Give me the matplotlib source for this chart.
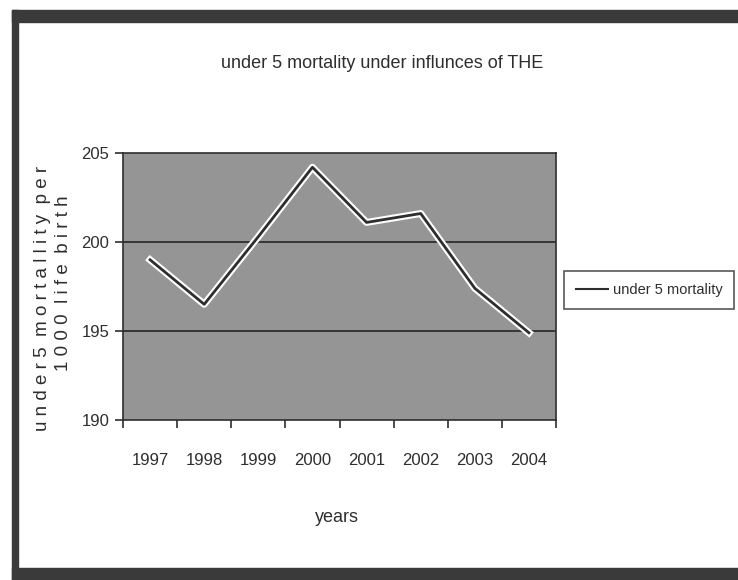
import numpy as np
import matplotlib
matplotlib.use("Agg")
import matplotlib.pyplot as plt
import matplotlib.patheffects as pe
from matplotlib.lines import Line2D
from matplotlib.patches import Rectangle

years = ["1997", "1998", "1999", "2000", "2001", "2002", "2003", "2004"]
mortality = [199.0, 196.5, 200.3, 204.2, 201.1, 201.6, 197.4, 194.9]
y_ticks = [190, 195, 200, 205]

font = ["Liberation Sans", "DejaVu Sans"]
ink = "#2e2e2e"

fig = plt.figure(figsize=(7.38, 5.8), dpi=100)
ax = fig.add_axes([0.1667, 0.2759, 0.5867, 0.4603])
ax.set_facecolor("#959595")

x = np.arange(len(years))
ax.plot(x, mortality, color=ink, lw=2.0, zorder=3,
        path_effects=[pe.Stroke(linewidth=5, foreground="white"), pe.Normal()])

for v in y_ticks[1:3]:
    ax.axhline(v, color=ink, lw=1.3, zorder=2)

ax.set_xlim(-0.5, len(years) - 0.5)
ax.set_ylim(190, 205)
ax.set_xticks(x)
ax.set_xticklabels(years, family=font, fontsize=12, color=ink)
ax.set_xticks(np.arange(len(years) + 1) - 0.5, minor=True)
ax.tick_params(axis="x", which="major", length=0, pad=24)
ax.tick_params(axis="x", which="minor", length=6, width=1.2, color=ink, direction="out")
ax.set_yticks(y_ticks)
ax.set_yticklabels([str(v) for v in y_ticks], family=font, fontsize=12, color=ink)
ax.tick_params(axis="y", length=6, width=1.2, color=ink, direction="out", pad=4)
for s in ax.spines.values():
    s.set_color(ink)
    s.set_linewidth(1.2)

fig.text(382 / 738, 1 - 63 / 580, "under 5 mortality under influnces of THE",
         family=font, fontsize=13, color=ink, ha="center", va="center")
fig.text(337 / 738, 1 - 517 / 580, "years", family=font, fontsize=13,
         color=ink, ha="center", va="center")
fig.text(43 / 738, 1 - 298 / 580, "u n d e r 5  m o r t a l l i t y  p e r",
         family=font, fontsize=13.5, color=ink, rotation=90, ha="center", va="center")
fig.text(64 / 738, 1 - 283 / 580, "1 0 0 0  l i f e  b i r t h",
         family=font, fontsize=13.5, color=ink, rotation=90, ha="center", va="center")

handle = Line2D([], [], color=ink, lw=1.5)
leg = fig.legend([handle], ["under 5 mortality"], loc="center right",
                 bbox_to_anchor=(734 / 738, 1 - 290 / 580),
                 prop={"family": font, "size": 10.5}, frameon=True,
                 fancybox=False, handlelength=2.2, handletextpad=0.3,
                 borderpad=0.8, borderaxespad=0)
leg.get_frame().set_edgecolor(ink)
leg.get_frame().set_linewidth(1.2)
for t in leg.get_texts():
    t.set_color(ink)

# dark scan edges along the top, left and bottom of the page
edge = "#3a3a3a"
fig.patches.append(Rectangle((12 / 738, 1 - 22 / 580), 1, 12 / 580,
                             transform=fig.transFigure, color=edge))
fig.patches.append(Rectangle((12 / 738, 0), 6 / 738, 1 - 10 / 580,
                             transform=fig.transFigure, color=edge))
fig.patches.append(Rectangle((12 / 738, 0), 1, 12 / 580,
                             transform=fig.transFigure, color=edge))

fig.savefig("out.png", dpi=100)
